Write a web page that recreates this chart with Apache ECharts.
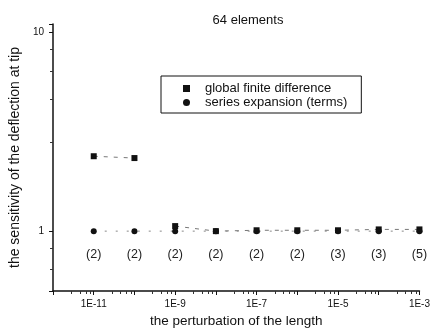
<!DOCTYPE html>
<html>
<head>
<meta charset="utf-8">
<script src="https://cdn.jsdelivr.net/npm/echarts@6/dist/echarts.min.js"></script>
<style>
  html, body { margin: 0; padding: 0; background: #fff; }
  #main { width: 433px; height: 334px; }
</style>
</head>
<body>
<div id="main"></div>
<script>
// perturbation of the length (x), one point per decade
const perturbations = [1e-11, 1e-10, 1e-9, 1e-8, 1e-7, 1e-6, 1e-5, 1e-4, 1e-3];
// global finite difference sensitivities
const finiteDiff = [2.38, 2.33, 1.06, 1.0, 1.01, 1.01, 1.01, 1.02, 1.02];
// series expansion sensitivities
const seriesExp = [1.0, 1.0, 1.0, 1.0, 1.0, 1.0, 1.0, 1.0, 1.0];
// number of terms used in the series expansion
const terms = [2, 2, 2, 2, 2, 2, 3, 3, 5];
// the finite difference curve is not drawn between these two points
const fdGapAfter = 1;

const font = 'Liberation Sans, Arial, sans-serif';

const fdPoints = perturbations.map((x, i) => [x, finiteDiff[i]]);
const fdLine = [];
fdPoints.forEach((p, i) => {
  fdLine.push(p);
  if (i === fdGapAfter) fdLine.push([p[0], '-']);
});
const sePoints = perturbations.map((x, i) => [x, seriesExp[i]]);

const chart = echarts.init(document.getElementById('main'));
chart.setOption({
  animation: false,
  title: {
    text: '64 elements',
    left: 243,
    top: 9,
    textAlign: 'center',
    textStyle: { fontFamily: font, fontSize: 13, fontWeight: 'normal', color: '#111' }
  },
  legend: {
    left: 161,
    top: 76,
    orient: 'vertical',
    itemWidth: 7,
    itemHeight: 7,
    itemGap: 1,
    padding: [6, 14, 4, 22],
    borderColor: '#111',
    borderWidth: 1,
    data: [
      { name: 'global finite difference', icon: 'rect' },
      { name: 'series expansion (terms)', icon: 'circle' }
    ],
    textStyle: { fontFamily: font, fontSize: 13, color: '#111', padding: [0, 0, 0, 10] }
  },
  grid: { left: 52, right: 13, top: 24, bottom: 43 },
  xAxis: {
    type: 'log',
    logBase: 10,
    min: 1e-12,
    max: 1e-3,
    name: 'the perturbation of the length',
    nameLocation: 'middle',
    nameGap: 21,
    nameTextStyle: { fontFamily: font, fontSize: 13.5, color: '#111' },
    axisLine: { lineStyle: { color: '#111', width: 1.5 } },
    axisTick: { length: 4, lineStyle: { color: '#111' } },
    minorTick: { show: true, splitNumber: 5, length: 3, lineStyle: { color: '#333' } },
    splitLine: { show: false },
    axisLabel: {
      fontFamily: font,
      fontSize: 10,
      color: '#111',
      margin: 8,
      formatter: function (v) {
        const e = Math.round(Math.log10(v));
        return Math.abs(e) % 2 === 1 ? '1E' + e : '';
      }
    }
  },
  yAxis: {
    type: 'log',
    logBase: 10,
    min: 0.5,
    max: 11,
    name: 'the sensitivity of the deflection at tip',
    nameLocation: 'middle',
    nameGap: 31,
    nameTextStyle: { fontFamily: font, fontSize: 14, color: '#111' },
    axisLine: { lineStyle: { color: '#111', width: 1.5 } },
    axisTick: { length: 4, lineStyle: { color: '#111' } },
    minorTick: { show: true, splitNumber: 5, length: 3, lineStyle: { color: '#333' } },
    splitLine: { show: false },
    axisLabel: {
      fontFamily: font,
      fontSize: 10,
      color: '#111',
      margin: 9,
      formatter: function (v) {
        const l = Math.log10(v);
        return Math.abs(l - Math.round(l)) < 1e-6 ? String(v) : '';
      }
    }
  },
  series: [
    {
      name: 'global finite difference',
      type: 'line',
      data: fdLine,
      symbol: 'rect',
      symbolSize: 6,
      itemStyle: { color: '#111' },
      lineStyle: { color: '#777', width: 1, type: [4, 6] }
    },
    {
      name: 'series expansion (terms)',
      type: 'line',
      data: sePoints,
      symbol: 'circle',
      symbolSize: 6,
      itemStyle: { color: '#111' },
      lineStyle: { color: '#888', width: 1, type: [2, 9] },
      label: {
        show: true,
        position: 'bottom',
        distance: 14,
        fontFamily: font,
        fontSize: 12.5,
        color: '#222',
        formatter: function (p) { return '(' + terms[p.dataIndex] + ')'; }
      }
    }
  ]
});
</script>
</body>
</html>
